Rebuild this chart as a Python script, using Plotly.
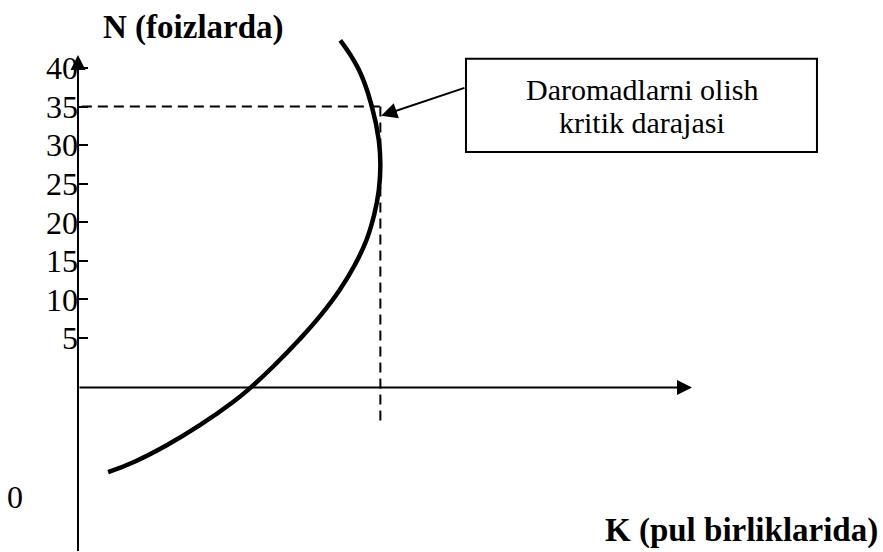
import plotly.graph_objects as go

# curve of income vs. share
curve_k = [34.0, 36.4, 38.1, 39.0, 39.2, 39.0, 38.4, 37.4, 35.9, 33.9, 31.5, 28.7, 25.5, 22.3, 20.1, 15.8, 11.5, 7.4, 3.9]
curve_n = [43.6, 39.8, 35.0, 30.6, 27.4, 24.2, 21.0, 17.7, 14.5, 11.2, 8.0, 4.8, 1.5, -1.5, -3.3, -6.3, -8.9, -11.0, -12.4]

# critical level point
crit_k = 39.2
crit_n = 35

# y tick labels
n_ticks = [5, 10, 15, 20, 25, 30, 35, 40]

# axis extents
k_axis_end = 79.6
n_axis_top = 41.7
n_axis_bottom = -22.8
k_axis_level = -1.4
dash_bottom = -5.9

FONT = "Liberation Serif"

fig = go.Figure()

# dashed guide lines
fig.add_trace(go.Scatter(
    x=[0.5, crit_k], y=[crit_n, crit_n], mode="lines",
    line=dict(color="black", width=2, dash="10px,6px"), hoverinfo="skip",
))
fig.add_trace(go.Scatter(
    x=[crit_k, crit_k], y=[crit_n, dash_bottom], mode="lines",
    line=dict(color="black", width=2, dash="10px,6px"), hoverinfo="skip",
))

# main curve
fig.add_trace(go.Scatter(
    x=curve_k, y=curve_n, mode="lines",
    line=dict(color="black", width=4.5, shape="spline", smoothing=1.3),
    hoverinfo="skip",
))

# axes with arrows
fig.add_annotation(
    x=0, y=n_axis_top, ax=0, ay=n_axis_bottom, xref="x", yref="y", axref="x", ayref="y",
    text="", showarrow=True, arrowhead=2, arrowsize=1.5, arrowwidth=2, arrowcolor="black",
)
fig.add_annotation(
    x=k_axis_end, y=k_axis_level, ax=0, ay=k_axis_level, xref="x", yref="y", axref="x", ayref="y",
    text="", showarrow=True, arrowhead=2, arrowsize=1.5, arrowwidth=2, arrowcolor="black",
)

# callout box
fig.add_shape(type="rect", x0=50.3, x1=95.8, y0=29.1, y1=41.2,
              line=dict(color="black", width=2), fillcolor="white")
fig.add_annotation(x=73.1, y=37.2, text="Daromadlarni olish", showarrow=False,
                   font=dict(family=FONT, size=30, color="black"))
fig.add_annotation(x=73.1, y=32.9, text="kritik darajasi", showarrow=False,
                   font=dict(family=FONT, size=30, color="black"))
fig.add_annotation(
    x=crit_k + 0.1, y=33.8, ax=50.3, ay=37.5, xref="x", yref="y", axref="x", ayref="y",
    text="", showarrow=True, arrowhead=2, arrowsize=1.6, arrowwidth=2, arrowcolor="black",
)

# axis titles and stray zero
fig.add_annotation(x=15.0, y=45.3, text="<b>N (foizlarda)</b>", showarrow=False,
                   font=dict(family=FONT, size=33, color="black"))
fig.add_annotation(x=104.0, y=-19.9, xanchor="right", text="<b>K (pul birliklarida)</b>",
                   showarrow=False, font=dict(family=FONT, size=33, color="black"))
fig.add_annotation(x=-8.2, y=-15.6, text="0", showarrow=False,
                   font=dict(family=FONT, size=32, color="black"))

fig.update_layout(
    width=883, height=552,
    margin=dict(l=0, r=0, t=0, b=0),
    paper_bgcolor="white", plot_bgcolor="white",
    showlegend=False,
)
fig.update_xaxes(range=[-10.11, 104.36], visible=False, automargin=False)
fig.update_yaxes(
    range=[-22.74, 48.82], anchor="free", position=78 / 883, automargin=False,
    tickvals=n_ticks, ticks="inside", ticklen=9, tickwidth=2, tickcolor="black",
    showline=False, showgrid=False, zeroline=False,
    tickfont=dict(family=FONT, size=32, color="black"),
)

# drop the browser's default body margin so the figure sits at the page corner
fig.write_html(
    "out.html",
    config={"displayModeBar": False},
    post_script="document.body.style.margin = '0px';",
)
